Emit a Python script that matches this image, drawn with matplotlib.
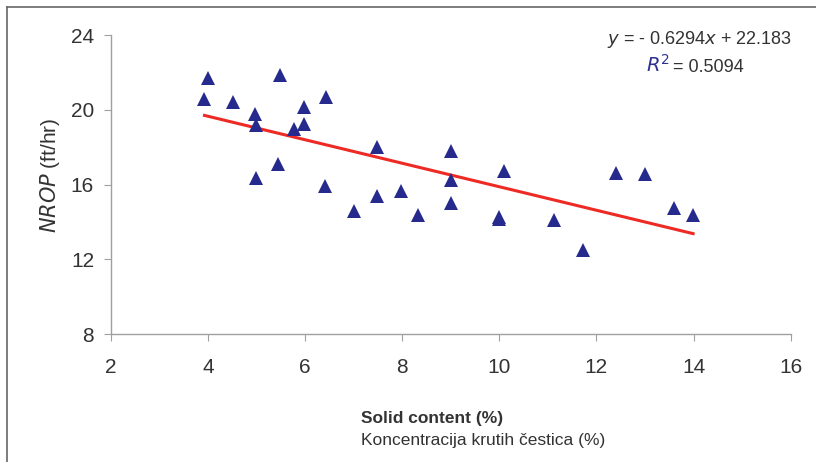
import matplotlib
matplotlib.use('Agg')
from matplotlib import pyplot as plt
from matplotlib.lines import Line2D
import numpy as np

plt.rcParams['font.family'] = ['Liberation Sans', 'DejaVu Sans']

# solid content (%) and NROP (ft/hr)
solid = [4.0, 3.93, 4.52, 4.98, 5.0, 5.48, 5.45, 5.0, 5.78, 5.97, 5.97,
         6.44, 6.41, 7.0, 7.49, 7.49, 7.98, 8.32, 9.0, 9.0, 9.0,
         10.0, 10.0, 10.1, 11.12, 11.72, 12.41, 13.0, 13.6, 13.99]
nrop = [21.69, 20.6, 20.44, 19.81, 19.17, 21.87, 17.1, 16.37, 18.99, 20.14, 19.26,
        20.72, 15.92, 14.57, 18.0, 15.37, 15.64, 14.37, 17.81, 16.26, 15.01,
        14.28, 14.15, 16.72, 14.1, 12.5, 16.62, 16.55, 14.75, 14.37]

slope = -0.6294
intercept = 22.183
r2 = 0.5094

xticks = [2, 4, 6, 8, 10, 12, 14, 16]
yticks = [8, 12, 16, 20, 24]

fig = plt.figure(figsize=(8.16, 4.62), dpi=100)
ax = fig.add_axes([0.1357, 0.277, 0.969 - 0.1357, 0.9236 - 0.277])

ax.plot(solid, nrop, linestyle='none', marker='^', ms=9.5,
        color='#262a8c', markeredgewidth=0, zorder=3)

fx = np.array([min(solid), max(solid)])
ax.plot(fx, slope * fx + intercept, color='#ee2a24', lw=2.2, zorder=2)

ax.set_xlim(2, 16)
ax.set_ylim(8, 24)
ax.set_xticks(xticks)
ax.set_yticks(yticks)
for s in ['top', 'right']:
    ax.spines[s].set_visible(False)
for s in ['left', 'bottom']:
    ax.spines[s].set_color('#a0a0a0')
    ax.spines[s].set_linewidth(1.0)
ax.tick_params(axis='both', direction='out', length=5, color='#a0a0a0',
               labelsize=15, labelcolor='#333333')
ax.tick_params(axis='x', pad=12)
ax.tick_params(axis='y', pad=7)

ax.set_ylabel('$\\mathit{NROP}$ (ft/hr)', fontsize=15, color='#333333')
ax.yaxis.set_label_coords(-0.072, 0.53)

fig.text(361 / 816, 1 - 418 / 462, 'Solid content (%)', fontsize=12.5, fontweight='bold',
         color='#333333', va='center', ha='left')
fig.text(361 / 816, 1 - 440 / 462, 'Koncentracija krutih čestica (%)', fontsize=12.5,
         color='#333333', va='center', ha='left')

fig.text(792 / 816, 1 - 39 / 462,
         '$\\mathit{y}$ = - %.4f$\\mathit{x}$ + %.3f' % (-slope, intercept),
         fontsize=13, color='#333333', ha='right', va='center')
fig.text(673 / 816, 1 - 67 / 462, '= %.4f' % r2, fontsize=13, color='#333333',
         ha='left', va='center')
fig.text(670 / 816, 1 - 65 / 462, '$\\mathit{R}^2$', fontsize=14, color='#2e3192',
         ha='right', va='center')

# frame around the figure
fig.add_artist(Line2D([6.5 / 816, 1], [1 - 7 / 462, 1 - 7 / 462], transform=fig.transFigure,
                      color='#666666', lw=1.2))
fig.add_artist(Line2D([6.5 / 816, 6.5 / 816], [0, 1 - 7 / 462], transform=fig.transFigure,
                      color='#666666', lw=1.2))

fig.savefig('out.png', dpi=100)
